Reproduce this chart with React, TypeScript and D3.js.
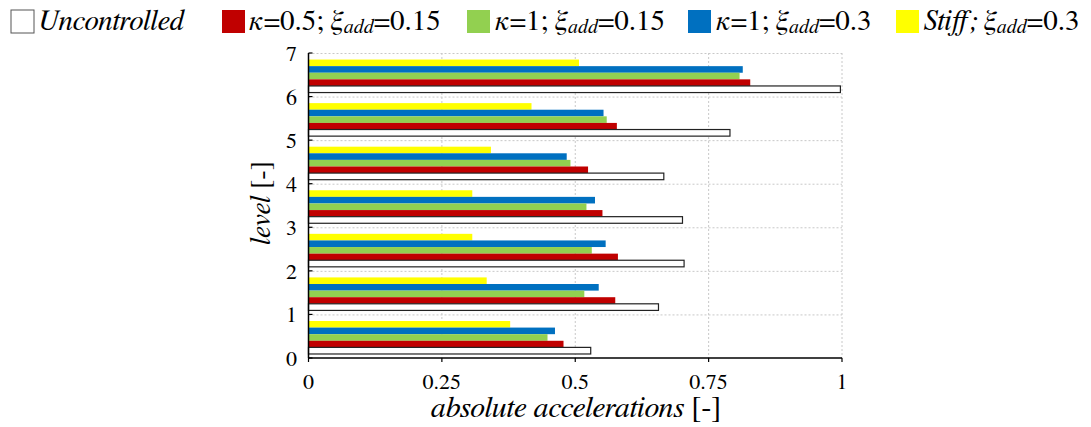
import React from "react";
import * as d3 from "d3";

const levels = [1, 2, 3, 4, 5, 6, 7];
const uncontrolled = [0.529, 0.656, 0.704, 0.701, 0.666, 0.79, 0.997];
const k05xi015 = [0.478, 0.575, 0.58, 0.551, 0.524, 0.578, 0.828];
const k1xi015 = [0.448, 0.517, 0.531, 0.521, 0.491, 0.559, 0.808];
const k1xi03 = [0.462, 0.544, 0.557, 0.537, 0.484, 0.553, 0.814];
const stiffxi03 = [0.378, 0.334, 0.307, 0.307, 0.342, 0.418, 0.507];
const xTicks = [0, 0.25, 0.5, 0.75, 1];
const xTickLabels = ["0", "0.25", "0.5", "0.75", "1"];
const yTicks = [0, 1, 2, 3, 4, 5, 6, 7];

const series = [
  { key: "stiff", values: stiffxi03, fill: "#FFFF00" },
  { key: "k1x03", values: k1xi03, fill: "#0070C0" },
  { key: "k1x015", values: k1xi015, fill: "#92D050" },
  { key: "k05", values: k05xi015, fill: "#C00000" },
  { key: "unc", values: uncontrolled, fill: "#FFFFFF" },
];

const FS = { fontFamily: "FreeSerif" };

export default function App() {
  const W = 1091, H = 427;
  const x0 = 308.5, x1 = 842, yT = 53, yB = 358;
  const x = d3.scaleLinear().domain([0, 1]).range([x0, x1]);
  const y = d3.scaleLinear().domain([0, 7]).range([yB, yT]);
  const yLevel = d3.scaleBand<number>().domain([...levels].reverse()).range([yT, yB]).padding(0);
  const ySer = d3
    .scaleBand<string>()
    .domain(series.map((s) => s.key))
    .range([0, yLevel.bandwidth()])
    .paddingInner(0)
    .paddingOuter(0.8)
    .align(0.62);

  const legendItems = [
    { sq: 11, fill: "#FFFFFF", stroke: "#555" },
    { sq: 222, fill: "#C00000" },
    { sq: 467, fill: "#92D050" },
    { sq: 688, fill: "#0070C0" },
    { sq: 896, fill: "#FFFF00" },
  ];
  const sub = { fontSize: 20, fontStyle: "italic" as const };

  return (
    <svg width={W} height={H} style={{ position: "absolute", left: 0, top: 0, background: "#fff" }}>
      <rect width={W} height={H} fill="#fff" />
      {/* legend */}
      {legendItems.map((l, i) => (
        <rect key={i} x={l.sq} y={10} width={23} height={23} fill={l.fill} stroke={l.stroke || "none"} strokeWidth={1} />
      ))}
      <g fontSize={29} fill="#000">
        <text style={FS} x={38} y={30} fontStyle="italic">Uncontrolled</text>
        <text style={FS} x={249} y={30}>
          <tspan fontStyle="italic">κ</tspan>=0.5; <tspan fontStyle="italic">ξ</tspan>
          <tspan {...sub} dy={3}>add</tspan>
          <tspan dy={-3}>=0.15</tspan>
        </text>
        <text style={FS} x={495} y={30}>
          <tspan fontStyle="italic">κ</tspan>=1; <tspan fontStyle="italic">ξ</tspan>
          <tspan {...sub} dy={3}>add</tspan>
          <tspan dy={-3}>=0.15</tspan>
        </text>
        <text style={FS} x={716} y={30}>
          <tspan fontStyle="italic">κ</tspan>=1; <tspan fontStyle="italic">ξ</tspan>
          <tspan {...sub} dy={3}>add</tspan>
          <tspan dy={-3}>=0.3</tspan>
        </text>
        <text style={FS} x={924} y={30}>
          <tspan fontStyle="italic">Stiff; ξ</tspan>
          <tspan {...sub} dy={3}>add</tspan>
          <tspan dy={-3}>=0.3</tspan>
        </text>
      </g>
      {/* gridlines */}
      <g stroke="#c8c8c8" strokeWidth={1} strokeDasharray="2,2">
        {yTicks.slice(1).map((t) => (
          <line key={"gy" + t} x1={x0} x2={x1} y1={y(t) + 0.5} y2={y(t) + 0.5} />
        ))}
        {xTicks.slice(1).map((t) => (
          <line key={"gx" + t} x1={x(t)} x2={x(t)} y1={yT} y2={yB} />
        ))}
      </g>
      {/* bars */}
      {series.map((s) =>
        levels.map((lv, i) => (
          <rect
            key={s.key + lv}
            x={x(0)}
            y={(yLevel(lv) as number) + (ySer(s.key) as number)}
            width={x(s.values[i]) - x(0)}
            height={ySer.bandwidth()}
            fill={s.fill}
            stroke={s.key === "unc" ? "#222" : "none"}
            strokeWidth={s.key === "unc" ? 1.2 : 0}
          />
        ))
      )}
      {/* axes */}
      <line x1={x0} x2={x0} y1={yT} y2={yB} stroke="#000" strokeWidth={1.5} />
      <line x1={x0} x2={x1} y1={yB} y2={yB} stroke="#000" strokeWidth={1.5} />
      {yTicks.map((t) => (
        <line key={"ty" + t} x1={x0} x2={x0 + 4} y1={y(t)} y2={y(t)} stroke="#000" strokeWidth={1.2} />
      ))}
      {xTicks.map((t) => (
        <line key={"tx" + t} x1={x(t)} x2={x(t)} y1={yB} y2={yB + 4} stroke="#000" strokeWidth={1.2} />
      ))}
      <g fontSize={22} fill="#000">
        {yTicks.map((t) => (
          <text style={FS} key={"ly" + t} x={297} y={y(t) + 8} textAnchor="end">{t}</text>
        ))}
        {xTicks.map((t, i) => (
          <text style={FS} key={"lx" + t} x={x(t)} y={389} textAnchor="middle">{xTickLabels[i]}</text>
        ))}
      </g>
      <text style={FS} x={576} y={417} fontSize={30} textAnchor="middle" fill="#000">
        <tspan fontStyle="italic">absolute accelerations</tspan> [-]
      </text>
      <text style={FS} transform="translate(270,203) rotate(-90)" fontSize={28} textAnchor="middle" fill="#000">
        <tspan fontStyle="italic">level</tspan> [-]
      </text>
    </svg>
  );
}
